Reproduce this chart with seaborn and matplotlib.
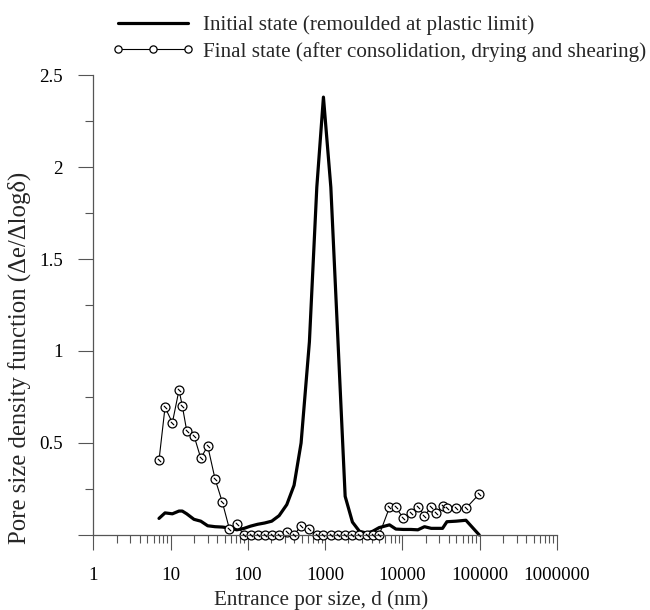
import numpy as np
import pandas as pd
import matplotlib
matplotlib.use('Agg')
import matplotlib.pyplot as plt
from matplotlib.lines import Line2D
from matplotlib.ticker import LogLocator, NullFormatter, MultipleLocator, FuncFormatter
import seaborn as sns

# pore entrance sizes (nm)
diam_nm = [7.05, 8.44, 10.5, 12.8, 14.1, 16.1, 20.0, 24.5, 30.1, 37.5, 46.6, 57.4,
           71.6, 87.7, 108, 133, 164, 203, 253, 318, 395, 487, 624, 778, 948,
           1182, 1456, 1811, 2250, 2773, 3456, 4110, 4990, 6790, 8220, 10300,
           12850, 15820, 19270, 23550, 27100, 33000, 37600, 49650, 66250, 98600]

# initial state (remoulded at plastic limit)
initial_psd = [0.09, 0.12, 0.115, 0.13, 0.13, 0.115, 0.085, 0.075, 0.05, 0.045, 0.043, 0.038,
               0.028, 0.035, 0.048, 0.058, 0.065, 0.075, 0.105, 0.165, 0.27, 0.5, 1.05, 1.89, 2.38,
               1.89, 1.07, 0.21, 0.07, 0.02, 0.01, 0.02, 0.04, 0.055, 0.032, 0.03,
               0.03, 0.028, 0.045, 0.036, 0.036, 0.036, 0.072, 0.075, 0.08, 0.0]

# final state (after consolidation, drying and shearing)
final_psd = [0.406, 0.694, 0.61, 0.788, 0.703, 0.567, 0.54, 0.417, 0.484, 0.304, 0.178, 0.034,
             0.06, 0.0, 0.0, 0.0, 0.0, 0.0, 0.0, 0.015, 0.0, 0.05, 0.03, 0.0, 0.0,
             0.0, 0.0, 0.0, 0.0, 0.0, 0.0, 0.0, 0.0, 0.15, 0.15, 0.09,
             0.12, 0.154, 0.105, 0.15, 0.118, 0.16, 0.145, 0.145, 0.145, 0.223]

lbl_initial = "Initial state (remoulded at plastic limit)"
lbl_final = "Final state (after consolidation, drying and shearing)"

df = pd.DataFrame({"d": diam_nm, "initial": initial_psd, "final": final_psd})

sns.set_style("ticks")
plt.rcParams['font.family'] = ['Liberation Serif', 'DejaVu Serif']
FS = 13.6
axcol = '#555555'

fig = plt.figure(figsize=(6.5, 6.1), dpi=100)
ax = fig.add_axes([0.1438, 0.123, 0.7131, 0.754])

sns.lineplot(data=df, x="d", y="initial", ax=ax, color='black', linewidth=2.3,
             sort=False, estimator=None, clip_on=False)
sns.lineplot(data=df, x="d", y="final", ax=ax, color='black', linewidth=0.8,
             marker='o', markersize=6.4, markerfacecolor='white', markeredgecolor='black',
             markeredgewidth=0.9, sort=False, estimator=None, clip_on=False)
# little slash inside the circles
sns.scatterplot(data=df, x="d", y="final", ax=ax, marker=(2, 2, 45), s=8,
                color='black', linewidth=0.6, clip_on=False, zorder=5)

ax.set_xscale('log')
ax.set_xlim(1, 1e6)
ax.set_ylim(0, 2.5)

ax.xaxis.set_major_locator(LogLocator(base=10, numticks=10))
ax.xaxis.set_minor_locator(LogLocator(base=10, subs=np.arange(2, 10), numticks=100))
ax.xaxis.set_minor_formatter(NullFormatter())
ax.xaxis.set_major_formatter(FuncFormatter(lambda v, p: f"{int(round(v))}"))
ax.yaxis.set_major_locator(MultipleLocator(0.5))
ax.yaxis.set_minor_locator(MultipleLocator(0.25))
ax.yaxis.set_major_formatter(FuncFormatter(lambda v, p: "" if v < 0.01 else f"{v:g}"))

ax.tick_params(axis='both', which='major', length=11, width=0.8, color=axcol,
               labelsize=FS, labelcolor='black', direction='out')
ax.tick_params(axis='both', which='minor', length=5.5, width=0.8, color=axcol, direction='out')
ax.tick_params(axis='x', which='major', pad=12)
ax.tick_params(axis='y', which='major', pad=11)

sns.despine(ax=ax)
for s in ['left', 'bottom']:
    ax.spines[s].set_color(axcol)
    ax.spines[s].set_linewidth(0.9)

ax.set_xlabel("Entrance por size, d (nm)", fontsize=15.2)
ax.set_ylabel("Pore size density function (Δe/Δlogδ)", fontsize=17.8)
ax.yaxis.set_label_coords(-0.135, 0.385)
ax.xaxis.set_label_coords(0.49, -0.12)

handles = [Line2D([], [], color='black', linewidth=2.3),
           Line2D([], [], color='black', linewidth=0.8, marker='o', markersize=5.2,
                  markerfacecolor='white', markeredgecolor='black', markeredgewidth=0.9)]
fig.legend(handles, [lbl_initial, lbl_final], loc='upper left',
           bbox_to_anchor=(0.166, 0.982), frameon=False, fontsize=15.2,
           handlelength=3.9, handletextpad=0.42, labelspacing=0.32, numpoints=3,
           borderpad=0.2, borderaxespad=0)

fig.savefig("out.png", dpi=100)
